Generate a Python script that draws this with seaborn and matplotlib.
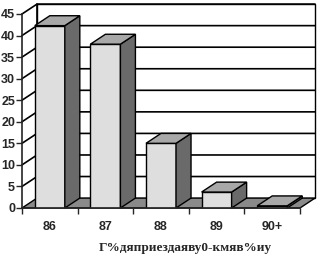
import matplotlib
matplotlib.use('Agg')
import matplotlib.pyplot as plt
import seaborn as sns
import pandas as pd
from matplotlib.patches import Polygon

# data
ages = ['86', '87', '88', '89', '90+']
counts = [42.3, 38.0, 15.0, 3.7, 0.5]
yticks = [0, 5, 10, 15, 20, 25, 30, 35, 40, 45]
title = 'Г%дяприездаяву0-кмяв%иу'

df = pd.DataFrame({'age': ages, 'count': counts})

sns.set_style('white')
plt.rcParams['font.family'] = ['Liberation Sans', 'DejaVu Sans']

fig = plt.figure(figsize=(3.2, 2.57), dpi=100)
ax = fig.add_axes([22/320, 49/257, 278/320, 194/257])

# depth of the fake 3d, in data units
dx, dy = 0.27, 2.3
front_col = '#dedede'
side_col = '#6a6a6a'
top_col = '#a8a8a8'
floor_col = '#8a8a8a'

sns.barplot(data=df, x='age', y='count', color=front_col, width=0.54,
            edgecolor='black', linewidth=1, saturation=1, ax=ax, zorder=3)

ax.set_xlim(-0.5, 4.5)
ax.set_ylim(0, 45)
x0, x1 = ax.get_xlim()

# back wall, left wall and floor
wall = Polygon([(x0 + dx, dy), (x1 + dx, dy), (x1 + dx, 45 + dy), (x0 + dx, 45 + dy)],
               closed=True, facecolor='white', edgecolor='black', lw=1, zorder=0, clip_on=False)
ax.add_patch(wall)
for t in yticks[1:]:
    ax.plot([x0, x0 + dx, x1 + dx], [t, t + dy, t + dy], color='black', lw=1.2,
            zorder=1, clip_on=False)
ax.plot([x0 + dx, x0 + dx], [dy, 45 + dy], color='black', lw=1.2, zorder=1, clip_on=False)
floor = Polygon([(x0, 0), (x1, 0), (x1 + dx, dy), (x0 + dx, dy)], closed=True,
                facecolor=floor_col, edgecolor='black', lw=1, zorder=2, clip_on=False)
ax.add_patch(floor)

# sides and tops of the bars, built from the bars seaborn drew
for bar in ax.patches[:len(ages)]:
    bx = bar.get_x()
    bw = bar.get_width()
    bh = bar.get_height()
    side = Polygon([(bx + bw, 0), (bx + bw + dx, dy), (bx + bw + dx, bh + dy), (bx + bw, bh)],
                   closed=True, facecolor=side_col, edgecolor='black', lw=1, zorder=3, clip_on=False)
    top = Polygon([(bx, bh), (bx + bw, bh), (bx + bw + dx, bh + dy), (bx + dx, bh + dy)],
                  closed=True, facecolor=top_col, edgecolor='black', lw=1, zorder=3, clip_on=False)
    ax.add_patch(side)
    ax.add_patch(top)

for s in ['top', 'right']:
    ax.spines[s].set_visible(False)
ax.spines['left'].set_linewidth(1.2)
ax.spines['bottom'].set_linewidth(1.2)
ax.spines['left'].set_zorder(4)
ax.spines['bottom'].set_zorder(4)

ax.set_yticks(yticks)
ax.set_xticks(range(len(ages)))
ax.set_xticklabels(ages)
ax.set_xticks([x0 + i for i in range(len(ages) + 1)], minor=True)
ax.tick_params(axis='y', length=4, width=1, pad=1, labelsize=9, left=True, direction='out')
ax.tick_params(axis='x', which='major', length=0, pad=9, labelsize=9)
ax.tick_params(axis='x', which='minor', length=4, width=1, bottom=True, direction='out')
for lab in ax.get_xticklabels() + ax.get_yticklabels():
    lab.set_fontweight('bold')
ax.set_xlabel('')
ax.set_ylabel('')

fig.text(185/320, 9/257, title, ha='center', va='center', fontsize=9.5,
         fontweight='bold', family=['Liberation Serif', 'DejaVu Serif'])

fig.savefig('out.png', dpi=100)
